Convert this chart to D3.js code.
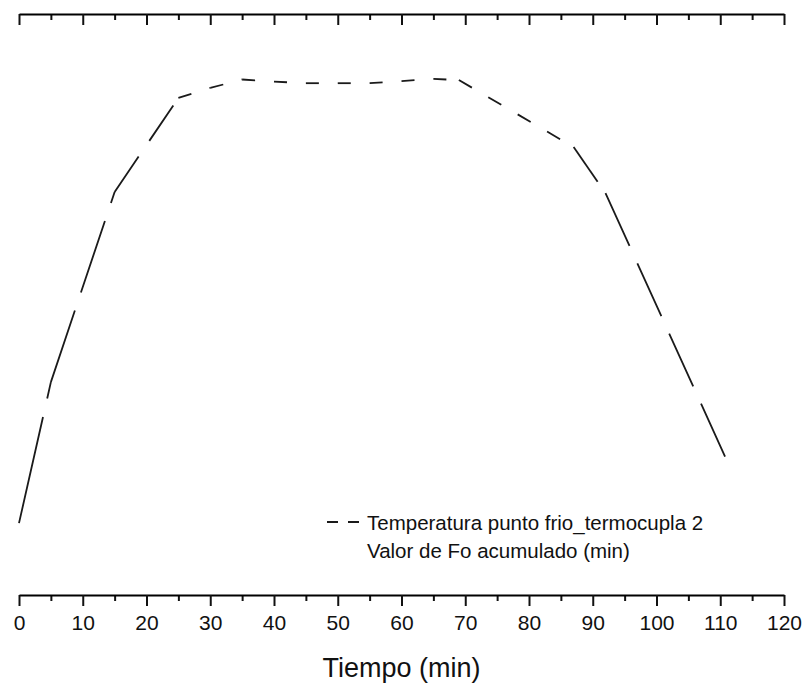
<!DOCTYPE html>
<html>
<head>
<meta charset="utf-8">
<script src="https://cdn.jsdelivr.net/npm/d3@7"></script>
<style>
  body { margin: 0; background: #fff; }
  svg { display: block; }
</style>
</head>
<body>
<div id="chart"></div>
<script>
// tiempo (min) y temperatura (°C)
const tiempo = [0, 5, 15, 25, 30, 35, 40, 45, 50, 55, 60, 65, 69, 87, 92, 111.5]
const temperatura = [33.6, 60.3, 96.3, 114.1, 116.0, 117.6, 117.2, 116.9, 116.9, 116.9, 117.3, 117.7, 117.5, 104.8, 96.1, 44.2]
const majorTicks = [0, 10, 20, 30, 40, 50, 60, 70, 80, 90, 100, 110, 120]
const minorTicks = [5, 15, 25, 35, 45, 55, 65, 75, 85, 95, 105, 115]
const legendLabels = ['Temperatura punto frio_termocupla 2', 'Valor de Fo acumulado (min)']

const width = 809
const height = 687
const margin = {top: 14, left: 19, right: 25, bottom: 92}

const svg = d3.select('#chart').append('svg')
  .attr('width', width)
  .attr('height', height)
  .attr('viewBox', '0,0,' + width + ',' + height)

const x = d3.scaleLinear()
  .domain([0, 120])
  .range([margin.left, width - margin.right])

const y = d3.scaleLinear()
  .domain([20, 130])
  .range([height - margin.bottom, margin.top])

const font = '"Liberation Sans", Arial, sans-serif'

// top and bottom frame axes, ticks always pointing down
const frameAxis = (g, ypos, labels) => {
  g.attr('transform', `translate(0,${ypos})`)
  g.append('g')
    .call(d3.axisBottom(x).tickValues(minorTicks).tickSize(6).tickSizeOuter(0).tickFormat(''))
    .call(g => g.select('.domain').remove())
  const major = g.append('g')
    .call(d3.axisBottom(x).tickValues(majorTicks).tickSize(11).tickSizeOuter(0)
      .tickFormat(labels ? d3.format('d') : ''))
  major.select('.domain').attr('stroke-width', 2.2)
  g.selectAll('.tick line').attr('stroke', '#111').attr('stroke-width', 2)
  major.selectAll('.tick text')
    .attr('y', 20)
    .attr('fill', '#111')
    .style('font-family', font)
    .style('font-size', '21px')
}

svg.append('g').call(g => frameAxis(g, margin.top, false))
svg.append('g').call(g => frameAxis(g, height - margin.bottom, true))

svg.append('text')
  .attr('x', x(60))
  .attr('y', 677)
  .attr('text-anchor', 'middle')
  .attr('fill', '#111')
  .style('font-family', font)
  .style('font-size', '27px')
  .text('Tiempo (min)')

// dashed curve: dash length follows the slope like in the original plot
const pts = tiempo.map((t, i) => [x(t), y(temperatura[i])])
d3.pairs(pts).forEach(([a, b]) => {
  const dx = b[0] - a[0], dy = b[1] - a[1]
  const s = Math.abs(dy / dx)
  const dash = (s < 1 ? 13 : 24) * Math.sqrt(1 + s * s)
  svg.append('line')
    .attr('x1', a[0]).attr('y1', a[1])
    .attr('x2', b[0]).attr('y2', b[1])
    .attr('stroke', '#1a1a1a')
    .attr('stroke-width', 1.8)
    .attr('stroke-dasharray', dash + ',19')
})

// legend
const legend = svg.append('g').attr('transform', 'translate(327,522)')
legend.append('line')
  .attr('x1', 0).attr('x2', 34)
  .attr('stroke', '#1a1a1a')
  .attr('stroke-width', 1.8)
  .attr('stroke-dasharray', '11,10')
legend.selectAll('text').data(legendLabels).enter().append('text')
  .attr('x', 40)
  .attr('y', (d, i) => 7.5 + i * 28)
  .attr('fill', '#111')
  .style('font-family', font)
  .style('font-size', '20.5px')
  .text(d => d)
</script>
</body>
</html>
